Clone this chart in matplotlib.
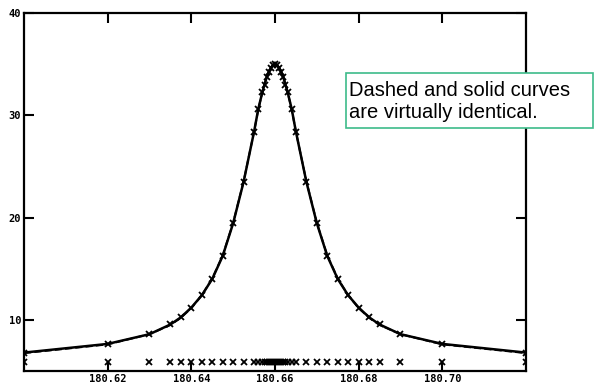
import matplotlib
matplotlib.use('Agg')
import matplotlib.pyplot as plt
from matplotlib.patches import Rectangle
import numpy as np

# sample positions (offsets from line centre) and measured heights
centre = 180.66
offsets = [-0.06, -0.04, -0.03, -0.025, -0.0225, -0.02, -0.0175, -0.015, -0.0125,
           -0.01, -0.0075, -0.005, -0.004, -0.003, -0.0025, -0.002, -0.0015, -0.001,
           -0.0005, 0.0, 0.0005, 0.001, 0.0015, 0.002, 0.0025, 0.003, 0.004, 0.005,
           0.0075, 0.01, 0.0125, 0.015, 0.0175, 0.02, 0.0225, 0.025, 0.03, 0.04, 0.06]
heights = [6.8, 7.65, 8.6, 9.55, 10.25, 11.2, 12.4, 14.0, 16.25,
           19.45, 23.5, 28.4, 30.6, 32.3, 33.0, 33.7, 34.2, 34.6,
           34.9, 35.0, 34.9, 34.6, 34.2, 33.7, 33.0, 32.3, 30.6, 28.4,
           23.5, 19.45, 16.25, 14.0, 12.4, 11.2, 10.25, 9.55, 8.6, 7.65, 6.8]
# fitted curve (dashed) - virtually identical to the data
fit_heights = [6.75, 7.6, 8.6, 9.5, 10.2, 11.15, 12.4, 14.05, 16.3,
               19.5, 23.55, 28.4, 30.55, 32.3, 33.05, 33.7, 34.25, 34.65,
               34.9, 35.0, 34.9, 34.65, 34.25, 33.7, 33.05, 32.3, 30.55, 28.4,
               23.55, 19.5, 16.3, 14.05, 12.4, 11.15, 10.2, 9.5, 8.6, 7.6, 6.75]
sample_row = 5.9
note = 'Dashed and solid curves\nare virtually identical.'

x = centre + np.array(offsets)

fig = plt.figure(figsize=(5.94, 3.87), dpi=100)
ax = fig.add_axes([0.0404, 0.0413, 0.8451, 0.9251])

ax.plot(x, heights, color='black', linewidth=1.8)
ax.plot(x, fit_heights, color='black', linewidth=1.4, linestyle='--')
ax.plot(x, heights, linestyle='none', marker='x', color='black',
        markersize=4, markeredgewidth=1.3)
ax.plot(x, [sample_row] * len(x), linestyle='none', marker='x', color='black',
        markersize=4, markeredgewidth=1.3)

ax.set_xlim(180.60, 180.72)
ax.set_ylim(5, 40)
ax.set_xticks([180.62, 180.64, 180.66, 180.68, 180.70])
ax.set_xticklabels(['180.62', '180.64', '180.66', '180.68', '180.70'])
ax.set_yticks([10, 20, 30, 40])
ax.set_yticklabels(['10', '20', '30', '40'])
ax.tick_params(direction='in', length=7, width=1.5, top=True, right=True,
               pad=2, labelsize=7.5)
for lab in ax.get_xticklabels() + ax.get_yticklabels():
    lab.set_family('DejaVu Sans Mono')
    lab.set_fontweight('bold')
for s in ax.spines.values():
    s.set_linewidth(1.6)

# note box
fig.patches.append(Rectangle((0.5825, 0.669), 0.4158, 0.142, transform=fig.transFigure,
                             facecolor='white', edgecolor='#3dbb8a', linewidth=1.2,
                             zorder=5))
fig.text(0.5875, 0.738, note, fontsize=14.5, family='Liberation Sans', va='center',
         ha='left', linespacing=1.2, zorder=6)

fig.savefig('out.png', dpi=100)
